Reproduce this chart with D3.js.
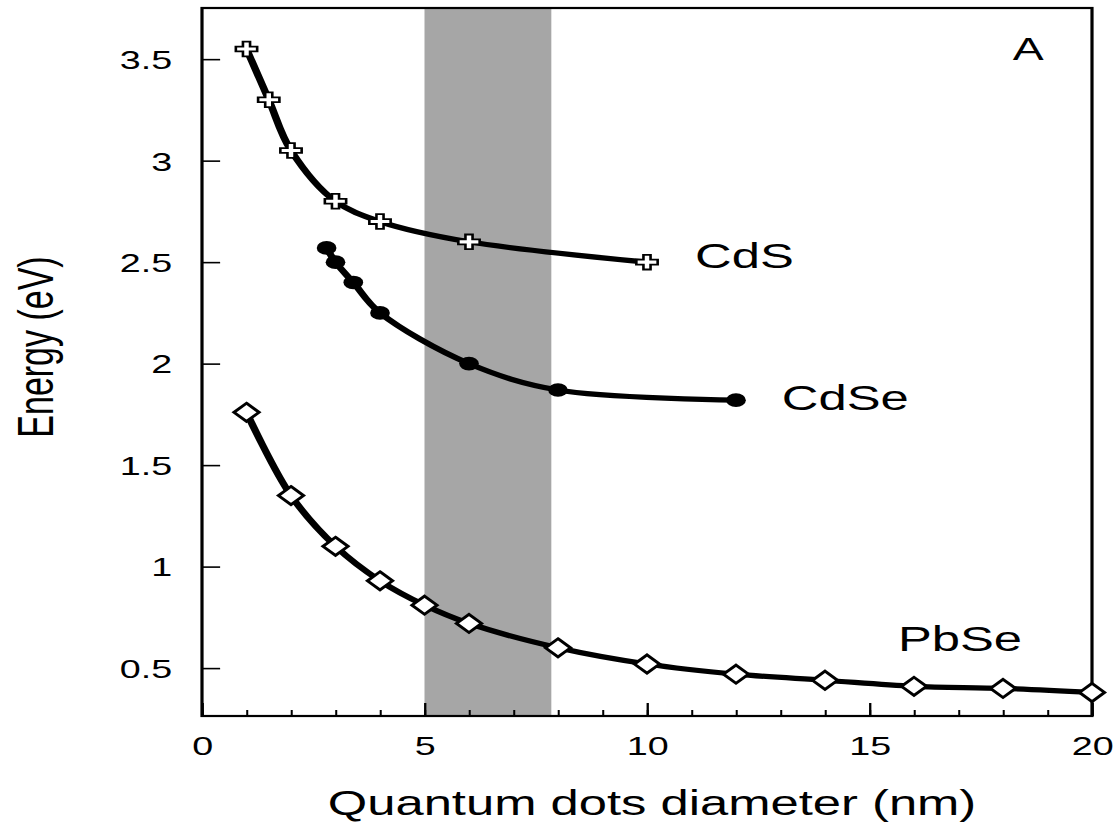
<!DOCTYPE html>
<html>
<head>
<meta charset="utf-8">
<script src="https://cdn.jsdelivr.net/npm/d3@7"></script>
<style>
  html, body { margin: 0; padding: 0; background: #fff; }
  svg { display: block; }
  text { font-family: "Liberation Sans", Arial, Helvetica, sans-serif; fill: #000; }
</style>
</head>
<body>
<svg id="chart" width="1115" height="827"></svg>
<script>
// ---- data ----
const cdsX = [1, 1.5, 2, 3, 4, 6, 10];
const cdsY = [3.55, 3.3, 3.05, 2.8, 2.7, 2.6, 2.5];
const cdseX = [2.8, 3, 3.4, 4, 6, 8, 12];
const cdseY = [2.57, 2.5, 2.4, 2.25, 2.0, 1.87, 1.82];
const pbseX = [1, 2, 3, 4, 5, 6, 8, 10, 12, 14, 16, 18, 20];
const pbseY = [1.76, 1.35, 1.1, 0.93, 0.81, 0.72, 0.6, 0.52, 0.47, 0.44, 0.41, 0.4, 0.38];
const bandX = [5, 7.85];
const xTickLabels = [0, 5, 10, 15, 20];
const yTickLabels = [0.5, 1, 1.5, 2, 2.5, 3, 3.5];
const seriesNames = ["CdS", "CdSe", "PbSe"];
const seriesLabelX = [11.08, 13.03, 15.64];
const seriesLabelY = [2.47, 1.77, 0.585];
const panelLabel = "A";
const xTitle = "Quantum dots diameter (nm)";
const yTitle = "Energy (eV)";

// ---- layout (picture is horizontally stretched) ----
const SX = 1.45;
const pLeft = 202 / SX, pRight = 1092 / SX, pTop = 8, pBottom = 716;

const svg = d3.select("#chart");
const g = svg.append("g").attr("transform", `scale(${SX},1)`);

const x = d3.scaleLinear().domain([0, 20]).range([pLeft, pRight]);
const y = d3.scaleLinear().domain([0.264, 3.752]).range([pBottom, pTop]);

// shaded band
g.append("rect")
  .attr("x", x(bandX[0])).attr("y", pTop)
  .attr("width", x(bandX[1]) - x(bandX[0])).attr("height", pBottom - pTop)
  .attr("fill", "#a6a6a6");

// axes
const yAxis = d3.axisLeft(y).tickValues(yTickLabels).tickSize(-12.5).tickPadding(20.5)
  .tickFormat(d => String(d));
const ya = g.append("g").attr("transform", `translate(${pLeft},0)`).call(yAxis);
ya.select(".domain").remove();
ya.selectAll("line").attr("stroke", "#000").attr("stroke-width", 1.6);
ya.selectAll("text").attr("font-size", 26).attr("dy", "0.36em").style("font-family", "Liberation Sans, Arial, sans-serif");

const xMinor = d3.axisBottom(x).ticks(20).tickSize(-6).tickFormat("");
const xm = g.append("g").attr("transform", `translate(0,${pBottom})`).call(xMinor);
xm.select(".domain").remove();
xm.selectAll("line").attr("stroke", "#000").attr("stroke-width", 1.4);

const xMajor = d3.axisBottom(x).tickValues(xTickLabels).tickSize(-13).tickFormat(d => String(d));
const xa = g.append("g").attr("transform", `translate(0,${pBottom})`).call(xMajor);
xa.select(".domain").remove();
xa.selectAll("line").attr("stroke", "#000").attr("stroke-width", 1.6);
xa.selectAll("text").attr("font-size", 26).attr("y", 39).attr("dy", 0).style("font-family", "Liberation Sans, Arial, sans-serif");

// frame
g.append("rect")
  .attr("x", pLeft).attr("y", pTop).attr("width", pRight - pLeft).attr("height", pBottom - pTop)
  .attr("fill", "none").attr("stroke", "#000").attr("stroke-width", 2.2);

// lines
const line = d3.line().x(d => x(d[0])).y(d => y(d[1])).curve(d3.curveCatmullRom.alpha(0.5));
const cds = cdsX.map((v, i) => [v, cdsY[i]]);
const cdse = cdseX.map((v, i) => [v, cdseY[i]]);
const pbse = pbseX.map((v, i) => [v, pbseY[i]]);

[cds, cdse, pbse].forEach(s => {
  g.append("path").datum(s).attr("d", line)
    .attr("fill", "none").attr("stroke", "#000").attr("stroke-width", 5.2)
    .attr("stroke-linejoin", "round").attr("stroke-linecap", "round");
});

// markers
const crossSym = d3.symbol().type(d3.symbolCross).size(120);
g.selectAll(".cds").data(cds).enter().append("path")
  .attr("transform", d => `translate(${x(d[0])},${y(d[1])})`)
  .attr("d", crossSym).attr("fill", "#fff").attr("stroke", "#000").attr("stroke-width", 1.8);

g.selectAll(".cdse").data(cdse).enter().append("circle")
  .attr("cx", d => x(d[0])).attr("cy", d => y(d[1])).attr("r", 6.8).attr("fill", "#000");

const diamondType = { draw(ctx, size) { const h = Math.sqrt(size) * 0.72, w = h * 0.95; ctx.moveTo(0, -h); ctx.lineTo(w, 0); ctx.lineTo(0, h); ctx.lineTo(-w, 0); ctx.closePath(); } };
const diaSym = d3.symbol().type(diamondType).size(160);
g.selectAll(".pbse").data(pbse).enter().append("path")
  .attr("transform", d => `translate(${x(d[0])},${y(d[1])})`)
  .attr("d", diaSym).attr("fill", "#fff").attr("stroke", "#000").attr("stroke-width", 2.5);

// series labels
seriesNames.forEach((n, i) => {
  g.append("text").attr("x", x(seriesLabelX[i])).attr("y", y(seriesLabelY[i]))
    .attr("font-size", 35).text(n);
});
g.append("text").attr("x", x(18.22)).attr("y", y(3.495)).attr("font-size", 32).text(panelLabel);

// axis titles
g.append("text").attr("x", ((202 + 1092) / 2 + 5) / SX).attr("y", 815)
  .attr("text-anchor", "middle").attr("font-size", 35).text(xTitle);
g.append("text").attr("transform", `translate(${53 / SX},347) rotate(-90)`)
  .attr("text-anchor", "middle").attr("font-size", 34).text(yTitle);
</script>
</body>
</html>
